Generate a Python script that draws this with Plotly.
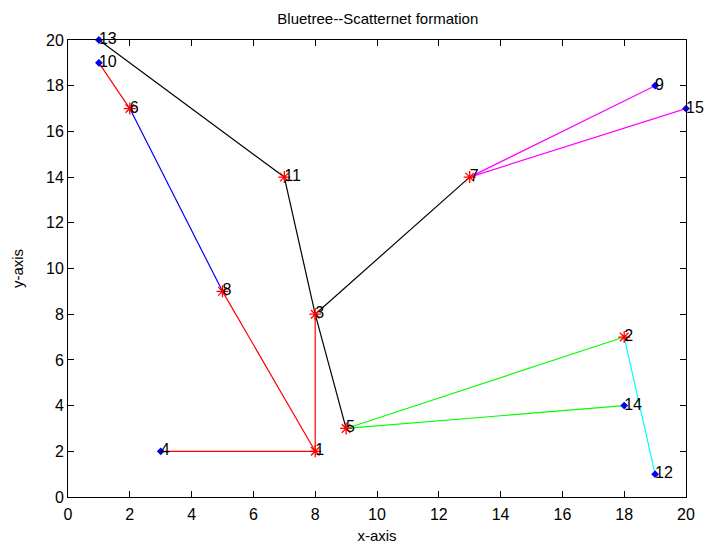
import plotly.graph_objects as go

# Node data
node_ids = [1, 2, 3, 4, 5, 6, 7, 8, 9, 10, 11, 12, 13, 14, 15]
node_x = [8, 18, 8, 3, 9, 2, 13, 5, 19, 1, 7, 19, 1, 18, 20]
node_y = [2, 7, 8, 2, 3, 17, 14, 9, 18, 19, 14, 1, 20, 4, 17]
# masters (red stars) vs slaves (blue dots)
node_kind = ["m", "m", "m", "s", "m", "m", "m", "m", "s", "s", "m", "s", "s", "s", "s"]

# Edges grouped by colour
edges_black = [(13, 11), (11, 3), (3, 5), (3, 7)]
edges_red = [(10, 6), (8, 1), (1, 3), (4, 1)]
edges_blue = [(6, 8)]
edges_magenta = [(7, 9), (7, 15)]
edges_green = [(5, 2), (5, 14)]
edges_cyan = [(2, 12)]

edge_groups = [
    (edges_black, "black"),
    (edges_red, "red"),
    (edges_blue, "blue"),
    (edges_magenta, "magenta"),
    (edges_green, "#00FF00"),
    (edges_cyan, "cyan"),
]

pos = {n: (x, y) for n, x, y in zip(node_ids, node_x, node_y)}

fig = go.Figure()
for edges, col in edge_groups:
    xs, ys = [], []
    for a, b in edges:
        xs += [pos[a][0], pos[b][0], None]
        ys += [pos[a][1], pos[b][1], None]
    fig.add_trace(go.Scatter(x=xs, y=ys, mode="lines",
                             line=dict(color=col, width=1.2),
                             showlegend=False, hoverinfo="skip", cliponaxis=False))

mx = [x for x, k in zip(node_x, node_kind) if k == "m"]
my = [y for y, k in zip(node_y, node_kind) if k == "m"]
sx = [x for x, k in zip(node_x, node_kind) if k == "s"]
sy = [y for y, k in zip(node_y, node_kind) if k == "s"]

fig.add_trace(go.Scatter(x=sx, y=sy, mode="markers",
                         marker=dict(symbol="diamond", size=6, color="blue"),
                         showlegend=False, cliponaxis=False))
fig.add_trace(go.Scatter(x=mx, y=my, mode="markers",
                         marker=dict(symbol="asterisk-open", size=10, color="red",
                                     line=dict(color="red", width=1.3)),
                         showlegend=False, cliponaxis=False))
fig.add_trace(go.Scatter(x=node_x, y=node_y, mode="text",
                         text=[str(n) for n in node_ids],
                         textposition="middle right",
                         textfont=dict(family="Liberation Sans", size=16, color="black"),
                         showlegend=False, cliponaxis=False))

axis_common = dict(
    showgrid=False, zeroline=False, showline=True, linecolor="black",
    linewidth=1, mirror="allticks", ticks="inside", ticklen=6,
    tickcolor="black", tickfont=dict(family="Liberation Sans", size=16, color="black"),
    dtick=2, automargin=False,
)
fig.update_layout(
    width=718, height=544,
    margin=dict(l=60, r=40, t=32, b=55),
    paper_bgcolor="white", plot_bgcolor="white",
    title=dict(text="Bluetree--Scatternet formation", x=0.515, y=0.98,
               xanchor="center", yanchor="middle",
               font=dict(family="Liberation Sans", size=15, color="black")),
    xaxis=dict(range=[0, 20], ticklabelstandoff=3,
               title=dict(text="x-axis", standoff=8,
                          font=dict(family="Liberation Sans", size=15, color="black")),
               **axis_common),
    yaxis=dict(range=[0, 20], ticklabelstandoff=0,
               title=dict(text="y-axis", standoff=18,
                          font=dict(family="Liberation Sans", size=15, color="black")),
               **axis_common),
    font=dict(family="Liberation Sans"),
)

fig.write_html("out.html")
